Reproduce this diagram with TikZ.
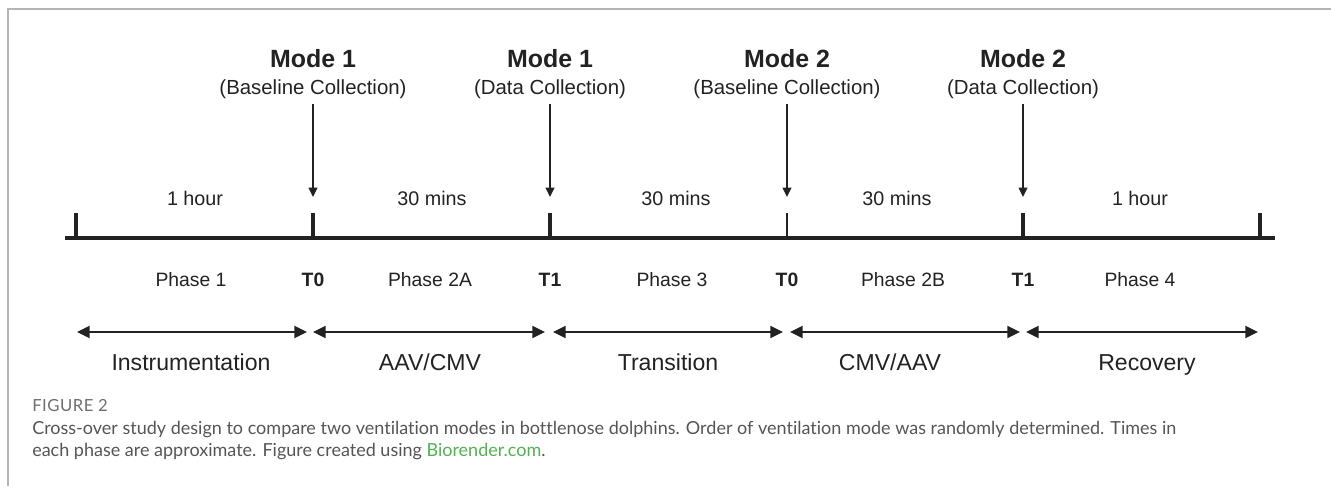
\documentclass[tikz,border=0pt]{standalone}
\usepackage{fontspec}
\setmainfont{Liberation Sans}
\newfontfamily\capfont[Ligatures=NoCommon]{Lato}
\newfontfamily\capheadfont[Ligatures=NoCommon,LetterSpace=3]{Lato}
\usetikzlibrary{arrows.meta}
\definecolor{ink}{HTML}{222222}
\definecolor{framegray}{HTML}{B4B4B4}
\definecolor{captext}{HTML}{555555}
\definecolor{caphead}{HTML}{6E6E6E}
\definecolor{linkgreen}{RGB}{82,178,79}
\tikzset{
  modelabel/.style={font=\bfseries\fontsize{18.7}{21}\selectfont, text=ink, anchor=base, inner sep=0pt},
  sublabel/.style={font=\fontsize{15.3}{18}\selectfont, text=ink, anchor=base, inner sep=0pt},
  durlabel/.style={font=\fontsize{14.8}{17}\selectfont, text=ink, anchor=base, inner sep=0pt},
  phaselabel/.style={font=\fontsize{14.5}{17}\selectfont, text=ink, anchor=base, inner sep=0pt},
  tlabel/.style={font=\bfseries\fontsize{14.5}{17}\selectfont, text=ink, anchor=base, inner sep=0pt},
  spanlabel/.style={font=\fontsize{17.3}{20}\selectfont, text=ink, anchor=base, inner sep=0pt},
  axisline/.style={draw=ink, line width=3pt},
  tickmark/.style={draw=ink, line width=2.3pt},
  thintick/.style={draw=ink, line width=1.5pt},
  dnarrow/.style={draw=ink, line width=1.1pt, shorten <=4.5pt, -{Triangle[length=7pt,width=6.5pt]}},
  spanarrow/.style={draw=ink, line width=1.6pt, {Triangle[length=9.5pt,width=9pt]}-{Triangle[length=9.5pt,width=9pt]}},
  caphead/.style={font=\capheadfont\fontsize{12.5}{15}\selectfont, text=caphead, anchor=base west, inner sep=0pt},
  capline/.style={font=\capfont\fontsize{13.5}{16}\selectfont, text=captext, anchor=base west, inner sep=0pt}
}
\begin{document}
\begin{tikzpicture}[x=0.75pt, y=-0.75pt]
\useasboundingbox (0,0) rectangle (1331,486);

% figure frame (top and left rules)
\draw[framegray, line width=1.1pt] (8,486) -- (8,9) -- (1331,9);

% time axis
\coordinate (axL) at (65,238);
\coordinate (axR) at (1275,238);
\draw[axisline] (axL) -- (axR);

% tick positions on the axis
\foreach \n/\x in {0/76,1/313,2/550,3/787,4/1023,5/1260}{
  \coordinate (k\n) at (\x,238);
  \coordinate (kt\n) at (\x,213);
  \coordinate (ka\n) at (\x,197);
}
\draw[tickmark] (k0) -- (kt0);
\draw[tickmark] (k1) -- (kt1);
\draw[tickmark] (k2) -- (kt2);
\draw[thintick] (k3) -- (kt3);
\draw[tickmark] (k4) -- (kt4);
\draw[tickmark] (k5) -- (kt5);

% collection points above the axis
\node[modelabel] (m1) at (313,67) {Mode 1};
\node[sublabel]  (s1) at (313,94) {(Baseline Collection)};
\node[modelabel] (m2) at (550,67) {Mode 1};
\node[sublabel]  (s2) at (550,94) {(Data Collection)};
\node[modelabel] (m3) at (787,67) {Mode 2};
\node[sublabel]  (s3) at (787,94) {(Baseline Collection)};
\node[modelabel] (m4) at (1023,67) {Mode 2};
\node[sublabel]  (s4) at (1023,94) {(Data Collection)};

\draw[dnarrow] (s1.south) -- (ka1);
\draw[dnarrow] (s2.south) -- (ka2);
\draw[dnarrow] (s3.south) -- (ka3);
\draw[dnarrow] (s4.south) -- (ka4);

% durations
\node[durlabel] (d1) at (195,205) {1 hour};
\node[durlabel] (d2) at (432,205) {30 mins};
\node[durlabel] (d3) at (676,205) {30 mins};
\node[durlabel] (d4) at (897,205) {30 mins};
\node[durlabel] (d5) at (1140,205) {1 hour};

% phases and time points below the axis
\node[phaselabel] (p1) at (191,286) {Phase 1};
\node[tlabel]     (t1) at (313,286) {T0};
\node[phaselabel] (p2) at (430,286) {Phase 2A};
\node[tlabel]     (t2) at (550,286) {T1};
\node[phaselabel] (p3) at (672,286) {Phase 3};
\node[tlabel]     (t3) at (787,286) {T0};
\node[phaselabel] (p4) at (903,286) {Phase 2B};
\node[tlabel]     (t4) at (1023,286) {T1};
\node[phaselabel] (p5) at (1140,286) {Phase 4};

% span arrows
\coordinate (a0r) at (307,332);
\coordinate (a0l) at (77,332);
\coordinate (a1l) at (313,332);
\coordinate (a1r) at (545,332);
\coordinate (a2l) at (553,332);
\coordinate (a2r) at (783,332);
\coordinate (a3l) at (790,332);
\coordinate (a3r) at (1020,332);
\coordinate (a4l) at (1026,332);
\coordinate (a4r) at (1258,332);
\draw[spanarrow] (a0l) -- (a0r);
\draw[spanarrow] (a1l) -- (a1r);
\draw[spanarrow] (a2l) -- (a2r);
\draw[spanarrow] (a3l) -- (a3r);
\draw[spanarrow] (a4l) -- (a4r);

\node[spanlabel] (l1) at (191,370) {Instrumentation};
\node[spanlabel] (l2) at (430,370) {AAV/CMV};
\node[spanlabel] (l3) at (668,370) {Transition};
\node[spanlabel] (l4) at (890,370) {CMV/AAV};
\node[spanlabel] (l5) at (1147,370) {Recovery};

% caption
\node[caphead] (cap0) at (32,411) {FIGURE 2};
\node[capline] (cap1) at (32,434) {Cross-over study design to compare two ventilation modes in bottlenose dolphins. Order of ventilation mode was randomly determined. Times in};
\node[capline] (cap2) at (32,456) {each phase are approximate. Figure created using \textcolor{linkgreen}{Biorender.com}.};
\end{tikzpicture}
\end{document}
